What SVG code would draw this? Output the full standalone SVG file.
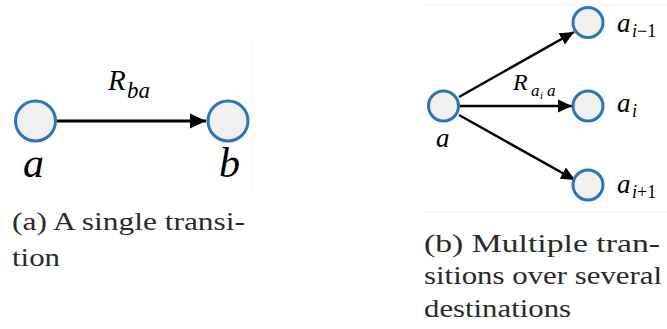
<svg xmlns="http://www.w3.org/2000/svg" width="667" height="329" viewBox="0 0 667 329">
<style>
.node{fill:#f0f0f0;stroke:#2e75b6;stroke-width:3}
.edge{stroke:#000;fill:none}
.frame{stroke:#f3f3f3;stroke-width:1;fill:none}
</style>
<defs>
<marker id="ahL" markerUnits="userSpaceOnUse" markerWidth="16" markerHeight="16" viewBox="0 0 14 14" refX="14" refY="7" orient="auto">
<path d="M0,0.5 L14,7 L0,13.5 Z" fill="#000"/>
</marker>
<marker id="ahS" markerUnits="userSpaceOnUse" markerWidth="14" markerHeight="14" viewBox="0 0 12 12" refX="12" refY="6" orient="auto">
<path d="M0,0.5 L12,6 L0,11.5 Z" fill="#000"/>
</marker>
</defs>
<rect width="667" height="329" fill="#fff"/>
<g id="frames">
<line class="frame" x1="252" y1="40" x2="252" y2="190"/>
<line class="frame" x1="424" y1="5" x2="667" y2="5"/>
<line class="frame" x1="424" y1="212" x2="667" y2="212"/>
</g>
<g id="connectors">
<line class="edge" x1="57" y1="121" x2="206" y2="121" stroke-width="3" marker-end="url(#ahL)"/>
<line class="edge" x1="459" y1="97" x2="574" y2="32" stroke-width="2.5" marker-end="url(#ahS)"/>
<line class="edge" x1="460" y1="106" x2="572" y2="106" stroke-width="2.5" marker-end="url(#ahS)"/>
<line class="edge" x1="459" y1="115" x2="575" y2="180" stroke-width="2.5" marker-end="url(#ahS)"/>
</g>
<g font-family="'Liberation Serif', serif" font-style="italic" fill="#000">
<g id="label-Rba">
<text x="108" y="90" font-size="29">R</text>
<text x="127" y="98" font-size="23">ba</text>
</g>
<g id="label-Raia">
<text x="513" y="90" font-size="24">R</text>
<text x="531" y="96" font-size="17">a</text>
<text x="540" y="99" font-size="11">i</text>
<text x="547" y="96" font-size="17">a</text>
</g>
<g id="node-a-left">
<circle class="node" cx="35.5" cy="121" r="20"/>
<text x="23" y="177" font-size="42">a</text>
</g>
<g id="node-b">
<circle class="node" cx="228" cy="121" r="20"/>
<text x="219" y="177" font-size="42">b</text>
</g>
<g id="node-a-right">
<circle class="node" cx="443.5" cy="106" r="15"/>
<text x="436" y="147" font-size="27">a</text>
</g>
<g id="node-ai-1">
<circle class="node" cx="588" cy="22.5" r="15"/>
<text x="617" y="32" font-size="27">a</text>
<text x="632" y="37" font-size="18">i<tspan font-style="normal">−1</tspan></text>
</g>
<g id="node-ai">
<circle class="node" cx="588" cy="106" r="15"/>
<text x="617" y="112" font-size="27">a</text>
<text x="632" y="117" font-size="18">i</text>
</g>
<g id="node-ai+1">
<circle class="node" cx="588" cy="185" r="15"/>
<text x="617" y="193" font-size="27">a</text>
<text x="632" y="198" font-size="18">i<tspan font-style="normal">+1</tspan></text>
</g>
</g>
<g font-family="'Liberation Serif', serif" font-size="26" fill="#2a2a2a">
<g id="caption-a">
<text x="12" y="230" textLength="233" lengthAdjust="spacingAndGlyphs">(a) A single transi-</text>
<text x="12" y="266" textLength="48" lengthAdjust="spacingAndGlyphs">tion</text>
</g>
<g id="caption-b">
<text x="424" y="252" textLength="236" lengthAdjust="spacingAndGlyphs">(b) Multiple tran-</text>
<text x="424" y="284" textLength="238" lengthAdjust="spacingAndGlyphs">sitions over several</text>
<text x="424" y="317" textLength="147" lengthAdjust="spacingAndGlyphs">destinations</text>
</g>
</g>
</svg>
